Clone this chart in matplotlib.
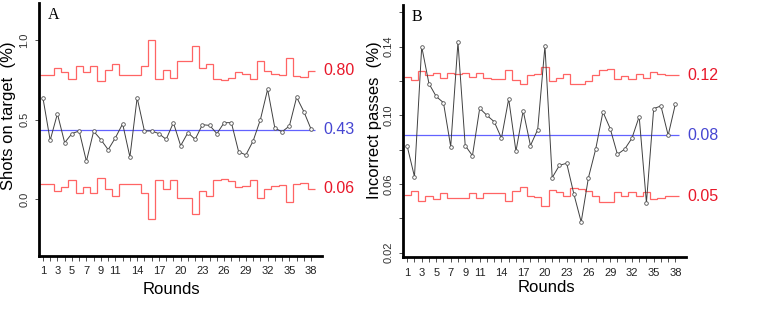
import matplotlib
matplotlib.use("Agg")
import matplotlib.pyplot as plt
import numpy as np

plt.rcParams['font.family'] = ['Liberation Sans', 'DejaVu Sans']

rounds = np.arange(1, 39)
shown_ticks = [1, 3, 5, 7, 9, 11, 14, 17, 20, 23, 26, 29, 32, 35, 38]

# panel A - shots on target
shots = [0.639, 0.371, 0.538, 0.356, 0.413, 0.430, 0.239, 0.428, 0.375, 0.312,
         0.387, 0.475, 0.266, 0.639, 0.430, 0.430, 0.413, 0.377, 0.482, 0.337,
         0.419, 0.377, 0.469, 0.465, 0.413, 0.482, 0.482, 0.299, 0.279, 0.367,
         0.501, 0.692, 0.447, 0.425, 0.461, 0.642, 0.551, 0.440]
shots_ucl = [0.780, 0.780, 0.824, 0.800, 0.757, 0.836, 0.800, 0.836, 0.744, 0.813,
             0.849, 0.780, 0.780, 0.780, 0.836, 1.000, 0.757, 0.813, 0.761, 0.870,
             0.870, 0.964, 0.824, 0.849, 0.757, 0.750, 0.761, 0.799, 0.786, 0.757,
             0.870, 0.809, 0.786, 0.782, 0.887, 0.777, 0.767, 0.809]
shots_lcl = [0.094, 0.094, 0.054, 0.075, 0.119, 0.038, 0.075, 0.038, 0.134, 0.065,
             0.023, 0.094, 0.094, 0.094, 0.038, -0.126, 0.119, 0.065, 0.119, 0.008,
             0.008, -0.094, 0.054, 0.023, 0.119, 0.126, 0.115, 0.075, 0.086, 0.119,
             0.008, 0.065, 0.086, 0.090, -0.015, 0.096, 0.103, 0.065]
shots_cl = 0.436
shots_yticks = [0.0, 0.5, 1.0]
shots_ylabels = ['0.0', '0.5', '1.0']
shots_texts = ['0.80', '0.43', '0.06']

# panel B - incorrect passes
passes = [0.0820, 0.0643, 0.1400, 0.1185, 0.1110, 0.1074, 0.0818, 0.1426, 0.0824, 0.0765,
          0.1041, 0.1000, 0.0963, 0.0867, 0.1096, 0.0791, 0.1027, 0.0824, 0.0917, 0.1404,
          0.0637, 0.0709, 0.0721, 0.0540, 0.0379, 0.0637, 0.0803, 0.1020, 0.0923, 0.0773,
          0.0803, 0.0867, 0.0993, 0.0491, 0.1039, 0.1055, 0.0884, 0.1067]
passes_ucl = [0.1222, 0.1207, 0.1259, 0.1237, 0.1247, 0.1216, 0.1245, 0.1242, 0.1247, 0.1221,
              0.1247, 0.1216, 0.1212, 0.1212, 0.1265, 0.1204, 0.1182, 0.1236, 0.1240, 0.1283,
              0.1202, 0.1216, 0.1240, 0.1181, 0.1185, 0.1201, 0.1236, 0.1266, 0.1271, 0.1212,
              0.1228, 0.1212, 0.1240, 0.1216, 0.1251, 0.1241, 0.1236, 0.1234]
passes_lcl = [0.0536, 0.0560, 0.0503, 0.0530, 0.0513, 0.0546, 0.0521, 0.0521, 0.0517, 0.0546,
              0.0517, 0.0546, 0.0550, 0.0550, 0.0503, 0.0561, 0.0581, 0.0530, 0.0522, 0.0474,
              0.0565, 0.0552, 0.0532, 0.0579, 0.0573, 0.0562, 0.0532, 0.0497, 0.0495, 0.0552,
              0.0532, 0.0556, 0.0528, 0.0552, 0.0513, 0.0521, 0.0528, 0.0530]
passes_cl = 0.0884
passes_yticks = [0.02, 0.04, 0.06, 0.08, 0.10, 0.12, 0.14, 0.16]
passes_ylabels = ['0.02', '', '0.06', '', '0.10', '', '0.14', '']
passes_texts = ['0.12', '0.08', '0.05']

LIM_RED = '#ff6464'
TXT_RED = '#e8182a'
LIM_BLUE = '#6262ff'
TXT_BLUE = '#4646d2'


def panel(ax, vals, ucl, lcl, cl, yticks, ylabels, ylim, texts, letter):
    edges = np.arange(0.5, len(rounds) + 1)
    ax.stairs(ucl, edges, baseline=None, color=LIM_RED, lw=0.9)
    ax.stairs(lcl, edges, baseline=None, color=LIM_RED, lw=0.9)
    ax.hlines(cl, edges[0], edges[-1], color=LIM_BLUE, lw=0.9)
    ax.plot(rounds, vals, color='#404040', lw=0.7, marker='o', ms=2.6,
            mfc='white', mec='#505050', mew=0.6)

    ax.set_xlim(0.46, 39.5)
    ax.set_ylim(*ylim)
    ax.set_xticks(rounds)
    ax.set_xticklabels([str(r) if r in shown_ticks else '' for r in rounds])
    ax.set_yticks(yticks)
    ax.set_yticklabels(ylabels, rotation=90, va='center')
    ax.tick_params(axis='x', length=3.5, width=0.6, color='#333333',
                   labelsize=8, pad=4, labelcolor='#222222')
    ax.tick_params(axis='y', length=3, width=0.6, color='#333333',
                   labelsize=8, pad=4, labelcolor='#333333')

    for s in ['top', 'right']:
        ax.spines[s].set_visible(False)
    for s in ['left', 'bottom']:
        ax.spines[s].set_linewidth(2.0)
        ax.spines[s].set_color('black')

    tr = ax.get_yaxis_transform()
    ax.text(1.005, ucl[-1], texts[0], transform=tr, color=TXT_RED,
            fontsize=11.5, ha='left', va='center', clip_on=False)
    ax.text(1.005, cl, texts[1], transform=tr, color=TXT_BLUE,
            fontsize=11.5, ha='left', va='center', clip_on=False)
    ax.text(1.005, lcl[-1], texts[2], transform=tr, color=TXT_RED,
            fontsize=11.5, ha='left', va='center', clip_on=False)
    ax.text(0.03, 0.985, letter, transform=ax.transAxes, family='Liberation Serif',
            fontsize=11.5, ha='left', va='top')


fig = plt.figure(figsize=(7.67, 3.2), dpi=100)
axA = fig.add_axes([39 / 767, 64 / 320, 283 / 767, 253 / 320])
axB = fig.add_axes([403.3 / 767, 62.7 / 320, 283 / 767, 252.3 / 320])

panel(axA, shots, shots_ucl, shots_lcl, shots_cl, shots_yticks, shots_ylabels,
      (-0.357, 1.235), shots_texts, 'A')
panel(axB, passes, passes_ucl, passes_lcl, passes_cl, passes_yticks, passes_ylabels,
      (0.0173, 0.1643), passes_texts, 'B')

fig.text(9 / 767, 1 - 116 / 320, 'Shots on target  (%)', rotation=90,
         fontsize=12, ha='center', va='center')
fig.text(375 / 767, 1 - 120 / 320, 'Incorrect passes  (%)', rotation=90,
         fontsize=12, ha='center', va='center')
fig.text(171.5 / 767, 1 - 290 / 320, 'Rounds', fontsize=12, ha='center', va='center')
fig.text(546.7 / 767, 1 - 288 / 320, 'Rounds', fontsize=12, ha='center', va='center')

fig.savefig('out.png', dpi=100)
